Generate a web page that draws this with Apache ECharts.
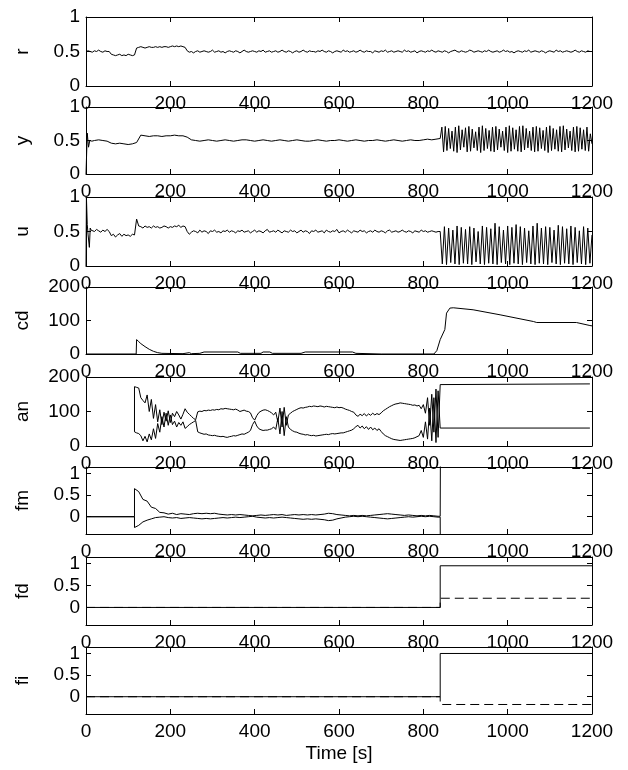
<!DOCTYPE html>
<html>
<head>
<meta charset="utf-8">
<script src="https://cdn.jsdelivr.net/npm/echarts@6/dist/echarts.min.js"></script>
<style>
  html, body { margin: 0; padding: 0; background: #fff; }
  #main { width: 628px; height: 770px; }
</style>
</head>
<body>
<div id="main"></div>
<script>
// axis labels / ticks
const panelNames = ['r', 'y', 'u', 'cd', 'an', 'fm', 'fd', 'fi'];
const xTicks = [0, 200, 400, 600, 800, 1000, 1200];
const ticksUnit = [0, 0.5, 1];
const ticks200 = [0, 100, 200];
const ticksFlag = [0, 0.5, 1];

// r : sampled every 5 s from t = 0
const rStep = 5;
const rVals = [
  0.50,0.51,0.50,0.49,0.51,0.50,0.52,0.50,0.49,0.51,0.50,0.50,
  0.46,0.45,0.44,0.45,0.46,0.44,0.45,0.44,0.46,0.45,0.44,0.45,
  0.55,0.56,0.57,0.56,0.55,0.56,0.57,0.56,0.56,0.57,0.56,0.57,
  0.56,0.57,0.57,0.56,0.57,0.58,0.57,0.58,0.57,0.58,0.57,0.56,
  0.51,0.49,0.50,0.48,0.50,0.51,0.49,0.50,0.51,0.50,0.49,0.50,0.52,0.49,0.50,0.51,0.49,0.50,0.48,0.50,
  0.51,0.50,0.49,0.51,0.50,0.48,0.50,0.52,0.50,0.49,0.50,0.51,0.50,0.49,0.51,0.50,0.52,0.49,0.50,0.51,
  0.49,0.50,0.51,0.49,0.50,0.52,0.50,0.49,0.51,0.50,0.48,0.50,0.51,0.49,0.50,0.52,0.50,0.49,0.51,0.50,
  0.50,0.49,0.51,0.50,0.52,0.50,0.49,0.51,0.50,0.48,0.50,0.51,0.50,0.49,0.52,0.50,0.51,0.49,0.50,0.51,
  0.49,0.50,0.52,0.50,0.49,0.51,0.50,0.50,0.48,0.51,0.50,0.49,0.51,0.50,0.52,0.49,0.50,0.51,0.49,0.50,
  0.51,0.50,0.49,0.52,0.50,0.51,0.49,0.50,0.51,0.48,0.50,0.51,0.50,0.49,0.51,0.50,0.52,0.50,0.49,0.51,
  0.50,0.49,0.51,0.50,0.48,0.50,0.51,0.52,0.50,0.49,0.51,0.50,0.49,0.50,0.52,0.51,0.49,0.50,0.51,0.50,
  0.49,0.51,0.50,0.52,0.50,0.49,0.50,0.51,0.49,0.50,0.52,0.50,0.51,0.49,0.50,0.48,0.50,0.51,0.50,0.49,
  0.51,0.50,0.52,0.49,0.50,0.51,0.50,0.49,0.51,0.50,0.48,0.50,0.51,0.50,0.49,0.52,0.50,0.51,0.49,0.50,
  0.51,0.50,0.49,0.50,0.52,0.50,0.49,0.51,0.50,0.49,0.51,0.50,0.50
];

// y : start-up transient, then every 10 s from 20 s, oscillation every 4 s from 840 s
const yHeadT = [0, 1, 3, 6, 9, 14];
const yHeadV = [0, 0.2, 0.61, 0.40, 0.50, 0.49];
const yBodyStart = 20, yBodyStep = 10;
const yBody = [
  0.50,0.51,0.50,0.49,
  0.46,0.45,0.46,0.45,0.44,0.45,
  0.47,0.58,
  0.57,0.56,0.57,0.57,0.56,0.57,0.57,0.58,0.57,0.57,
  0.55,0.51,
  0.50,0.49,0.50,0.51,0.50,0.49,0.50,0.51,0.50,0.49,0.50,0.51,0.51,0.50,0.49,0.50,0.51,0.50,0.49,0.50,
  0.51,0.50,0.49,0.50,0.51,0.50,0.49,0.49,0.50,0.51,0.50,0.49,0.50,0.50,0.51,0.50,0.49,0.50,0.51,0.50,
  0.49,0.50,0.50,0.51,0.50,0.49,0.50,0.51,0.50,0.49,0.50,0.51,0.50,0.50,0.51,0.52,0.51,0.52
];
const yOscStart = 840, yOscStep = 4;
const yOsc = [
  0.53,0.70,0.33,0.71,0.35,0.68,0.38,0.64,0.34,0.70,
  0.32,0.72,0.36,0.66,0.40,0.69,0.33,0.71,0.34,0.67,
  0.39,0.63,0.35,0.70,0.32,0.72,0.35,0.68,0.38,0.65,
  0.34,0.70,0.33,0.71,0.36,0.67,0.40,0.64,0.35,0.70,
  0.32,0.72,0.34,0.69,0.37,0.66,0.34,0.71,0.33,0.72,
  0.36,0.68,0.39,0.64,0.35,0.70,0.33,0.71,0.34,0.69,
  0.38,0.65,0.35,0.70,0.32,0.72,0.35,0.68,0.37,0.66,
  0.34,0.71,0.33,0.72,0.36,0.67,0.39,0.64,0.35,0.70,
  0.33,0.71,0.34,0.69,0.37,0.66,0.35,0.70,0.34,0.60,0.45
];

// u : start-up, then every 5 s from 15 s, oscillation every 5 s from 840 s
const uHeadT = [0, 1, 2, 3, 5, 8, 10, 12];
const uHeadV = [0, 1.0, 0.98, 0.6, 0.45, 0.27, 0.55, 0.52];
const uBodyStart = 15, uBodyStep = 5;
const uBody = [
  0.52,0.50,0.53,0.51,0.49,0.52,0.50,0.53,0.50,
  0.44,0.46,0.42,0.45,0.47,0.43,0.46,0.44,0.45,0.43,0.46,0.45,
  0.68,0.58,
  0.57,0.55,0.58,0.56,0.57,0.55,0.58,0.56,0.57,0.55,0.56,0.58,0.57,0.55,0.57,0.56,0.58,0.57,0.59,0.56,0.58,0.57,
  0.50,0.46,
  0.49,0.51,0.50,0.48,0.52,0.49,0.51,0.50,0.47,0.51,0.50,0.52,0.49,0.50,0.48,0.51,0.50,0.52,0.49,0.51,
  0.50,0.48,0.51,0.50,0.52,0.49,0.50,0.51,0.48,0.50,0.52,0.49,0.51,0.50,0.48,0.51,0.53,0.49,0.50,0.51,
  0.49,0.52,0.50,0.48,0.51,0.50,0.49,0.52,0.50,0.51,0.48,0.50,0.52,0.49,0.51,0.50,0.47,0.51,0.50,0.52,
  0.49,0.50,0.51,0.48,0.52,0.50,0.49,0.51,0.50,0.53,0.48,0.50,0.51,0.49,0.52,0.50,0.48,0.51,0.50,0.49,
  0.52,0.50,0.51,0.48,0.50,0.51,0.49,0.52,0.50,0.49,0.51,0.50,0.48,0.51,0.52,0.49,0.50,0.51,0.49,0.50,
  0.52,0.50,0.49,0.51,0.50,0.48,0.51,0.50,0.49,0.52,0.50,0.51,0.49,0.50,0.51,0.50,0.49,0.50
];
const uOscStart = 840, uOscStep = 5;
const uOsc = [
  0.50,0.03,0.57,0.02,0.55,0.05,0.52,0.03,0.58,0.02,
  0.56,0.04,0.53,0.03,0.57,0.02,0.55,0.06,0.50,0.03,
  0.58,0.02,0.56,0.04,0.54,0.03,0.62,0.02,0.57,0.05,
  0.52,0.03,0.58,0.02,0.56,0.04,0.60,0.03,0.57,0.02,
  0.55,0.05,0.51,0.03,0.58,0.02,0.62,0.04,0.55,0.03,
  0.57,0.02,0.56,0.05,0.52,0.03,0.59,0.02,0.57,0.04,
  0.54,0.03,0.58,0.02,0.56,0.05,0.51,0.03,0.57,0.02,
  0.55,0.04,0.45
];

// cd
const cdT = [0,119,120,125,130,140,150,160,170,180,230,245,250,270,280,360,366,415,420,436,
             442,510,520,632,640,700,825,832,840,851,855,863,871,918,982,1061,1069,1163,1195,1200];
const cdV = [0,0,43,37,31,22,14,8,4,2,1,4,1,2,6,6,2,2,6,6,
             2,2,6,6,2,0,0,10,43,73,122,137,138,132,117,97,94,94,85,84];

// an : two estimates every 5 s from 115 s to 840 s, then constant
const anStart = 115, anStep = 5;
const anUp = [
  172,170,168,140,132,125,148,100,135,80,
  120,70,105,62,98,72,102,68,95,85,
  100,90,78,92,108,98,92,86,80,76,
  99,101,100,103,102,104,103,105,104,106,
  105,108,107,109,108,107,106,105,107,104,
  100,102,104,101,100,96,82,75,88,97,
  101,104,105,103,100,96,90,98,70,110,
  55,112,60,90,95,100,103,106,109,111,
  110,112,113,115,114,116,115,114,116,115,
  113,115,114,113,112,111,113,111,112,110,
  107,105,103,100,98,90,86,92,88,94,
  87,93,89,95,90,94,91,96,102,106,
  110,114,117,120,122,123,125,124,123,122,
  121,120,118,119,116,118,108,120,95,140,
  60,150,40,165,25,178
];
const anLo = [
  41,38,36,30,15,28,12,35,18,50,
  22,65,40,85,55,95,60,90,62,72,
  55,68,60,70,51,56,62,66,70,74,
  41,38,36,34,35,32,31,30,31,29,
  28,27,28,26,25,27,28,30,29,31,
  33,35,34,37,40,45,62,72,58,50,
  47,45,46,46,48,50,55,48,80,35,
  100,30,85,55,48,44,41,40,37,35,
  34,32,33,31,30,31,29,30,31,32,
  33,34,33,35,36,35,36,37,38,38,
  40,42,44,46,50,56,60,52,58,50,
  56,48,55,47,52,45,50,42,35,30,
  27,24,21,19,18,17,16,17,18,19,
  20,21,22,24,27,30,45,25,70,20,
  110,15,140,10,160,52
];
const anTailT = [841, 1195];
const anUpTail = [180, 180];
const anLoTail = [52, 52];

// fm : zero until 115 s, two estimates every 10 s, then off scale after 840 s
const fmHeadT = [0, 115];
const fmHeadV = [0, 0];
const fmStart = 115, fmStep = 10;
const fmUp = [
  0.65,0.58,0.40,0.36,0.22,0.19,0.10,0.09,0.06,
  0.08,0.05,0.07,0.06,0.05,0.07,0.08,0.07,0.08,0.07,
  0.08,0.06,0.05,0.04,0.05,0.04,0.05,0.04,0.03,0.02,
  0.03,0.04,0.03,0.04,0.05,0.04,0.05,0.03,0.04,0.05,
  0.04,0.05,0.04,0.05,0.04,0.05,0.06,0.08,0.07,0.05,
  0.04,0.03,0.02,0.03,0.02,0.03,0.02,0.03,0.04,0.05,
  0.06,0.07,0.06,0.05,0.04,0.03,0.04,0.03,0.02,0.03,
  0.02,0.03,0.02,0.01
];
const fmLo = [
  -0.25,-0.20,-0.12,-0.08,-0.05,-0.02,-0.01,0.00,-0.02,
  -0.03,-0.02,-0.04,-0.03,-0.02,-0.03,-0.04,-0.05,-0.04,-0.05,
  -0.04,-0.03,-0.02,-0.03,-0.02,-0.01,-0.02,-0.01,0.00,0.01,
  -0.01,-0.02,-0.03,-0.02,-0.03,-0.02,-0.01,-0.02,-0.03,-0.04,
  -0.05,-0.06,-0.05,-0.06,-0.05,-0.06,-0.07,-0.09,-0.08,-0.05,
  -0.03,-0.01,0.00,0.01,0.00,0.01,0.00,-0.01,-0.02,-0.03,
  -0.04,-0.05,-0.04,-0.03,-0.02,-0.01,0.00,-0.01,0.00,0.01,
  0.00,0.01,0.00,-0.01
];
const fmTailT = [840, 841];
const fmUpTail = [0.01, 3];
const fmLoTail = [-0.01, -3];

// fd / fi flags (solid and dashed)
const flagT = [0, 840, 840, 1200];
const fdSolid = [0, 0, 0.95, 0.95];
const fdDash = [0, 0, 0.21, 0.21];
const fiSolid = [0, 0, 1, 1];
const fiDash = [0, 0, -0.18, -0.18];

// panel layout (px)
const panelTops = [17, 107, 197, 287, 377, 467, 557, 647];
const panelHeights = [69, 67, 69, 67, 69, 67, 68, 67];
const yRanges = [[0, 1], [0, 1], [0, 1], [0, 200], [0, 200], [-0.4, 1.15], [-0.4, 1.15], [-0.4, 1.15]];
const yTickSets = [ticksUnit, ticksUnit, ticksUnit, ticks200, ticks200, ticksFlag, ticksFlag, ticksFlag];

function stepped(t0, dt, vals) {
  return vals.map((v, i) => [t0 + i * dt, v]);
}
function pairs(ts, vs) {
  return ts.map((t, i) => [t, vs[i]]);
}

const FONT = "'Liberation Sans', Arial, sans-serif";
const black = '#000';
const plain = v => String(v);

const grids = [], xAxes = [], yAxes = [];
panelNames.forEach((name, i) => {
  grids.push({ left: 86, right: 36, top: panelTops[i], height: panelHeights[i] });
  const xBase = {
    gridIndex: i, type: 'value', min: 0, max: 1200,
    axisLine: { show: true, onZero: false, lineStyle: { color: black, width: 1 } },
    axisTick: { show: true, inside: true, length: 5, lineStyle: { color: black }, customValues: xTicks },
    splitLine: { show: false }
  };
  xAxes.push(Object.assign({}, xBase, {
    position: 'bottom',
    axisLabel: { color: black, fontSize: 19, fontFamily: FONT, margin: 8, customValues: xTicks, formatter: plain },
    name: i === panelNames.length - 1 ? 'Time [s]' : '',
    nameLocation: 'middle', nameGap: 30,
    nameTextStyle: { color: black, fontSize: 19, fontFamily: FONT }
  }));
  xAxes.push(Object.assign({}, xBase, { position: 'top', axisLabel: { show: false } }));

  const yBase = {
    gridIndex: i, type: 'value', min: yRanges[i][0], max: yRanges[i][1],
    axisLine: { show: true, onZero: false, lineStyle: { color: black, width: 1 } },
    axisTick: { show: true, inside: true, length: 5, lineStyle: { color: black }, customValues: yTickSets[i] },
    splitLine: { show: false }
  };
  yAxes.push(Object.assign({}, yBase, {
    position: 'left',
    axisLabel: { color: black, fontSize: 19, fontFamily: FONT, margin: 6, customValues: yTickSets[i], formatter: plain },
    name: name, nameLocation: 'middle', nameGap: 54, nameRotate: 90,
    nameTextStyle: { color: black, fontSize: 19, fontFamily: FONT }
  }));
  yAxes.push(Object.assign({}, yBase, { position: 'right', axisLabel: { show: false } }));
});

function line(panel, data, dashed) {
  return {
    type: 'line', xAxisIndex: panel * 2, yAxisIndex: panel * 2,
    data: data, symbol: 'none', clip: true, silent: true,
    lineStyle: { color: black, width: 1, type: dashed ? [9, 5] : 'solid' }
  };
}

const series = [
  line(0, stepped(0, rStep, rVals)),
  line(1, pairs(yHeadT, yHeadV).concat(stepped(yBodyStart, yBodyStep, yBody), stepped(yOscStart, yOscStep, yOsc))),
  line(2, pairs(uHeadT, uHeadV).concat(stepped(uBodyStart, uBodyStep, uBody), stepped(uOscStart, uOscStep, uOsc))),
  line(3, pairs(cdT, cdV)),
  line(4, [[anStart, anLo[0]]].concat(stepped(anStart, anStep, anUp), pairs(anTailT, anUpTail))),
  line(4, stepped(anStart, anStep, anLo).concat(pairs(anTailT, anLoTail))),
  line(5, pairs(fmHeadT, fmHeadV).concat(stepped(fmStart, fmStep, fmUp), pairs(fmTailT, fmUpTail))),
  line(5, pairs(fmHeadT, fmHeadV).concat(stepped(fmStart, fmStep, fmLo), pairs(fmTailT, fmLoTail))),
  line(6, pairs(flagT, fdSolid)),
  line(6, pairs(flagT, fdDash), true),
  line(7, pairs(flagT, fiSolid)),
  line(7, pairs(flagT, fiDash), true)
];

const chart = echarts.init(document.getElementById('main'), null, { renderer: 'canvas' });
chart.setOption({
  animation: false,
  backgroundColor: '#fff',
  grid: grids,
  xAxis: xAxes,
  yAxis: yAxes,
  series: series
});
</script>
</body>
</html>
